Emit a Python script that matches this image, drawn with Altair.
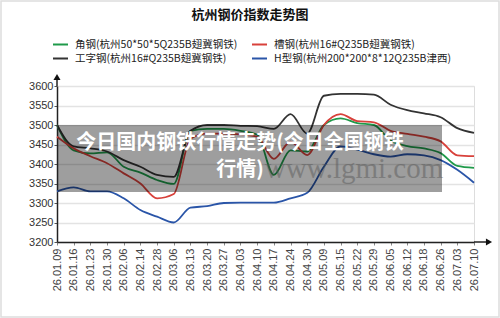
import altair as alt
import pandas as pd

dates = ["26.01.09", "26.01.16", "26.01.23", "26.01.30", "26.02.06", "26.02.14",
         "26.02.28", "26.03.06", "26.03.13", "26.03.20", "26.03.27", "26.04.03",
         "26.04.10", "26.04.17", "26.04.24", "26.04.30", "26.05.09", "26.05.15",
         "26.05.22", "26.05.29", "26.06.05", "26.06.12", "26.06.18", "26.06.26",
         "26.07.03", "26.07.10"]

series_names = ["角钢(杭州50*50*5Q235B翅冀钢铁)", "工字钢(杭州16#Q235B翅冀钢铁)",
                "槽钢(杭州16#Q235B翅冀钢铁)", "H型钢(杭州200*200*8*12Q235B津西)"]
series_colors = ["#1f9a4a", "#333333", "#d8413b", "#2a55a8"]

angle_steel = [3500, 3435, 3427, 3430, 3393, 3378, 3359, 3349, 3485, 3490, 3490, 3485,
               3475, 3372, 3435, 3432, 3500, 3517, 3505, 3500, 3460, 3446, 3440, 3428,
               3395, 3390]
i_beam = [3500, 3445, 3440, 3432, 3410, 3393, 3372, 3367, 3485, 3500, 3500, 3498,
          3497, 3490, 3528, 3478, 3575, 3580, 3580, 3578, 3552, 3538, 3530, 3520,
          3492, 3480]
channel_steel = [3470, 3440, 3420, 3402, 3376, 3350, 3312, 3323, 3465, 3478, 3478, 3476,
                 3470, 3413, 3457, 3423, 3500, 3528, 3510, 3507, 3485, 3477, 3470, 3458,
                 3422, 3420]
h_beam = [3330, 3340, 3330, 3330, 3312, 3282, 3265, 3250, 3288, 3292, 3300, 3301,
          3301, 3301, 3312, 3326, 3393, 3445, 3437, 3425, 3419, 3425, 3422, 3410,
          3385, 3352]

y_ticks = [3200, 3250, 3300, 3350, 3400, 3450, 3500, 3550, 3600]

chart_title = "杭州钢价指数走势图"
overlay_lines = ["今日国内钢铁行情走势(今日全国钢铁", "行情)"]
watermark_text = "www.lgmi.com"

rows = []
for name, vals in zip(series_names, [angle_steel, i_beam, channel_steel, h_beam]):
    for d, v in zip(dates, vals):
        rows.append({"date": d, "price": v, "series": name})
df = pd.DataFrame(rows)

W, H = 417, 156
CJK = "Noto Sans CJK SC"
one = pd.DataFrame({"a": [0]})

lines = alt.Chart(df).mark_line(interpolate="monotone", strokeWidth=1.8).encode(
    x=alt.X("date:O", sort=dates, title=None,
            scale=alt.Scale(type="point", padding=0),
            axis=alt.Axis(labelAngle=270, labelFont="Liberation Sans", labelFontSize=11,
                          labelColor="#444", domainColor="#222", domainWidth=1.5,
                          tickColor="#888", tickSize=3, labelPadding=3, grid=False)),
    y=alt.Y("price:Q", title=None,
            scale=alt.Scale(domain=[3200, 3600], nice=False, zero=False),
            axis=alt.Axis(values=y_ticks, format="d", labelFont="Liberation Sans",
                          labelFontSize=11, labelColor="#333", domainColor="#222",
                          domainWidth=1.5, tickColor="#555", tickSize=3, labelPadding=1,
                          grid=True, gridColor="#e3e3e3", gridWidth=1.5)),
    color=alt.Color("series:N", sort=series_names,
                    scale=alt.Scale(domain=series_names, range=series_colors),
                    legend=alt.Legend(title=None, orient="none", legendX=-5, legendY=-50,
                                      columns=2, columnPadding=10, rowPadding=0,
                                      symbolType="stroke", symbolSize=225,
                                      symbolStrokeWidth=2, labelFont=CJK,
                                      labelFontSize=10.5, labelColor="#222",
                                      labelOffset=6, labelLimit=400)),
    detail="series:N",
)

arrow_y = alt.Chart(one).mark_point(
    shape="triangle-up", filled=True, color="#111", size=50, opacity=1).encode(
    x=alt.value(0), y=alt.value(-9))
arrow_x = alt.Chart(one).mark_point(
    shape="triangle-right", filled=True, color="#111", size=50, opacity=1).encode(
    x=alt.value(432), y=alt.value(H))
axis_ext_y = alt.Chart(one).mark_rule(color="#222", strokeWidth=1.5).encode(
    x=alt.value(0), y=alt.value(-8), y2=alt.value(0))
axis_ext_x = alt.Chart(one).mark_rule(color="#222", strokeWidth=1.5).encode(
    x=alt.value(W), x2=alt.value(430), y=alt.value(H))

box = alt.Chart(one).mark_rect(color="#000", opacity=0.38).encode(
    x=alt.value(1), x2=alt.value(385), y=alt.value(39), y2=alt.value(106))

watermark = alt.Chart(pd.DataFrame({"t": [watermark_text]})).mark_text(
    font="Liberation Serif", fontSize=29, color="#555", opacity=0.45, align="center",
    baseline="middle").encode(text="t:N", x=alt.value(297), y=alt.value(83))

overlay_text = alt.Chart(pd.DataFrame({"t": overlay_lines, "yy": [57, 84]})).mark_text(
    font=CJK, fontSize=20, fontWeight="bold", color="white", align="center",
    baseline="middle").encode(text="t:N", x=alt.value(183), y=alt.Y("yy:Q", scale=None))

title_mark = alt.Chart(pd.DataFrame({"t": [chart_title]})).mark_text(
    font=CJK, fontSize=13, fontWeight="bold", color="#111", align="center",
    baseline="middle").encode(text="t:N", x=alt.value(193), y=alt.value(-71))

frame = alt.Chart(one).mark_rect(
    fill=None, fillOpacity=0, stroke="#dddddd", strokeWidth=1.5).encode(
    x=alt.value(-56), x2=alt.value(442), y=alt.value(-85), y2=alt.value(231))

chart = alt.layer(frame, lines, axis_ext_y, axis_ext_x, arrow_y, arrow_x, box, watermark,
                  overlay_text, title_mark).properties(
    width=W, height=H,
    autosize=alt.AutoSizeParams(type="none"),
    padding={"left": 57, "top": 86, "right": 26, "bottom": 76},
).configure_view(stroke=None).configure(background="white")

chart.save("out.html", embed_options={"renderer": "svg", "actions": False})
